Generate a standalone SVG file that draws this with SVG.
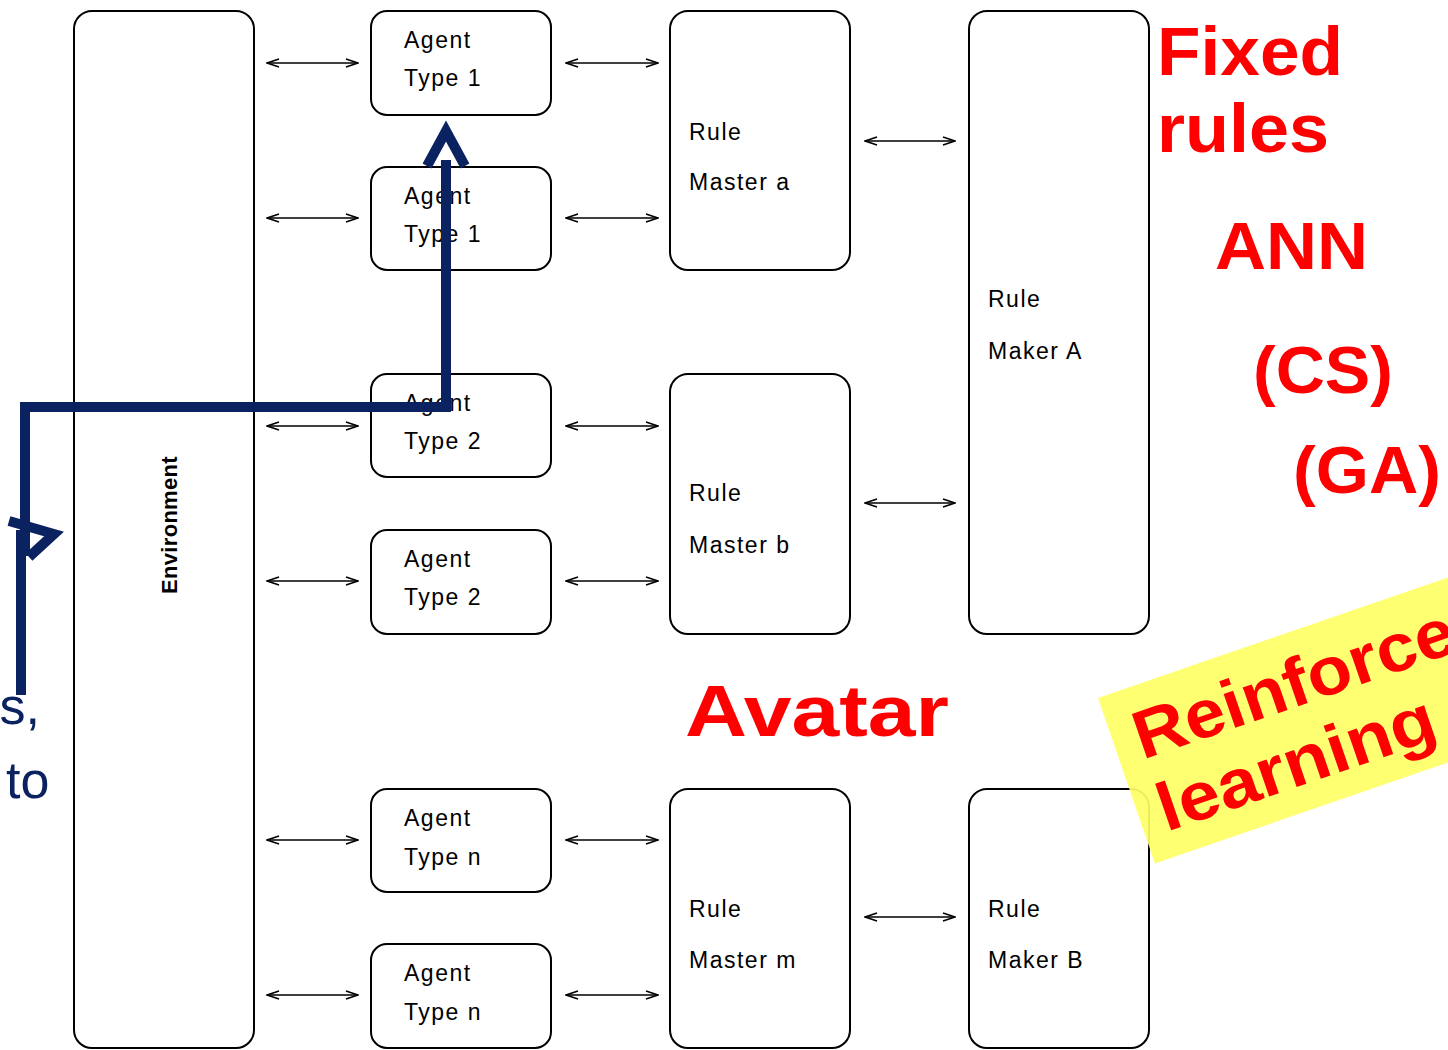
<svg xmlns="http://www.w3.org/2000/svg" width="1448" height="1050" viewBox="0 0 1448 1050">
<defs>
<style>
.box{fill:#fff;stroke:#000;stroke-width:2}
.lbl{font-family:"Liberation Sans",Arial,sans-serif;font-size:23px;letter-spacing:1.5px;fill:#000}
.red{font-family:"Liberation Sans",Arial,sans-serif;font-weight:bold;fill:#ff0000}
.conn{stroke:#000;stroke-width:1.6;fill:none;marker-start:url(#ah);marker-end:url(#ah)}
.blue{stroke:#0a2260;fill:none;stroke-width:10}
.navytxt{font-family:"Liberation Sans",Arial,sans-serif;font-size:52px;fill:#0a2260}
</style>
<marker id="ah" viewBox="0 0 14 10" refX="13" refY="5" markerWidth="14" markerHeight="10" markerUnits="userSpaceOnUse" orient="auto-start-reverse">
<path d="M1 1 L13 5 L1 9" fill="none" stroke="#000" stroke-width="1.6"/>
</marker>
</defs>
<rect width="1448" height="1050" fill="#fff"/>

<g id="environment">
<rect class="box" x="74" y="11" width="180" height="1037" rx="18"/>
<text class="lbl" transform="translate(177,525) rotate(-90)" text-anchor="middle" style="font-size:22px;letter-spacing:0.3px;font-weight:bold">Environment</text>
</g>

<g id="agent1a"><rect class="box" x="371" y="11" width="180" height="104" rx="16"/><text class="lbl" x="404" y="48">Agent</text><text class="lbl" x="404" y="86">Type 1</text></g>
<g id="agent1b"><rect class="box" x="371" y="167" width="180" height="103" rx="16"/><text class="lbl" x="404" y="204">Agent</text><text class="lbl" x="404" y="242">Type 1</text></g>
<g id="agent2a"><rect class="box" x="371" y="374" width="180" height="103" rx="16"/><text class="lbl" x="404" y="411">Agent</text><text class="lbl" x="404" y="449">Type 2</text></g>
<g id="agent2b"><rect class="box" x="371" y="530" width="180" height="104" rx="16"/><text class="lbl" x="404" y="567">Agent</text><text class="lbl" x="404" y="605">Type 2</text></g>
<g id="agentna"><rect class="box" x="371" y="789" width="180" height="103" rx="16"/><text class="lbl" x="404" y="826">Agent</text><text class="lbl" x="404" y="865">Type n</text></g>
<g id="agentnb"><rect class="box" x="371" y="944" width="180" height="104" rx="16"/><text class="lbl" x="404" y="981">Agent</text><text class="lbl" x="404" y="1020">Type n</text></g>

<g id="masterA"><rect class="box" x="670" y="11" width="180" height="259" rx="18"/><text class="lbl" x="689" y="140">Rule</text><text class="lbl" x="689" y="190">Master a</text></g>
<g id="masterB"><rect class="box" x="670" y="374" width="180" height="260" rx="18"/><text class="lbl" x="689" y="501">Rule</text><text class="lbl" x="689" y="553">Master b</text></g>
<g id="masterM"><rect class="box" x="670" y="789" width="180" height="259" rx="18"/><text class="lbl" x="689" y="917">Rule</text><text class="lbl" x="689" y="968">Master m</text></g>

<g id="makerA"><rect class="box" x="969" y="11" width="180" height="623" rx="18"/><text class="lbl" x="988" y="307">Rule</text><text class="lbl" x="988" y="359">Maker A</text></g>
<g id="makerB"><rect class="box" x="969" y="789" width="180" height="259" rx="18"/><text class="lbl" x="988" y="917">Rule</text><text class="lbl" x="988" y="968">Maker B</text></g>

<g id="connectors">
<line class="conn" x1="267" y1="63" x2="358" y2="63"/>
<line class="conn" x1="267" y1="218" x2="358" y2="218"/>
<line class="conn" x1="267" y1="426" x2="358" y2="426"/>
<line class="conn" x1="267" y1="581" x2="358" y2="581"/>
<line class="conn" x1="267" y1="840" x2="358" y2="840"/>
<line class="conn" x1="267" y1="995" x2="358" y2="995"/>
<line class="conn" x1="566" y1="63" x2="658" y2="63"/>
<line class="conn" x1="566" y1="218" x2="658" y2="218"/>
<line class="conn" x1="566" y1="426" x2="658" y2="426"/>
<line class="conn" x1="566" y1="581" x2="658" y2="581"/>
<line class="conn" x1="566" y1="840" x2="658" y2="840"/>
<line class="conn" x1="566" y1="995" x2="658" y2="995"/>
<line class="conn" x1="865" y1="141" x2="955" y2="141"/>
<line class="conn" x1="865" y1="503" x2="955" y2="503"/>
<line class="conn" x1="865" y1="917" x2="955" y2="917"/>
</g>

<g id="overlay-path">
<path class="blue" d="M446 160 L446 407 L20 407"/>
<path class="blue" d="M25 402 L25 556"/>
<path class="blue" d="M21 530 L21 695"/>
<polyline class="blue" stroke-width="8" points="427,166 446,131 465,166"/>
<polyline class="blue" stroke-width="7" points="9,521 54,534 29,557"/>
</g>

<text class="navytxt" x="40" y="724" text-anchor="end">s,</text>
<text class="navytxt" x="6" y="798">to</text>

<text class="red" x="1157" y="75" font-size="68" textLength="186" lengthAdjust="spacingAndGlyphs">Fixed</text>
<text class="red" x="1157" y="152" font-size="68" textLength="172" lengthAdjust="spacingAndGlyphs">rules</text>
<text class="red" x="1215" y="269" font-size="66" textLength="153" lengthAdjust="spacingAndGlyphs">ANN</text>
<text class="red" x="1253" y="393" font-size="66" textLength="140" lengthAdjust="spacingAndGlyphs">(CS)</text>
<text class="red" x="1293" y="493" font-size="66" textLength="148" lengthAdjust="spacingAndGlyphs">(GA)</text>
<text class="red" x="685" y="736" font-size="72" textLength="264" lengthAdjust="spacingAndGlyphs">Avatar</text>

<g id="note" transform="translate(1098,698) rotate(-19)">
<rect x="0" y="0" width="430" height="175" fill="#ffff66" fill-opacity="0.92"/>
<text class="red" x="22" y="73" font-size="68" textLength="336" lengthAdjust="spacingAndGlyphs">Reinforce</text>
<text class="red" x="21" y="149" font-size="68" textLength="290" lengthAdjust="spacingAndGlyphs">learning</text>
</g>
</svg>
